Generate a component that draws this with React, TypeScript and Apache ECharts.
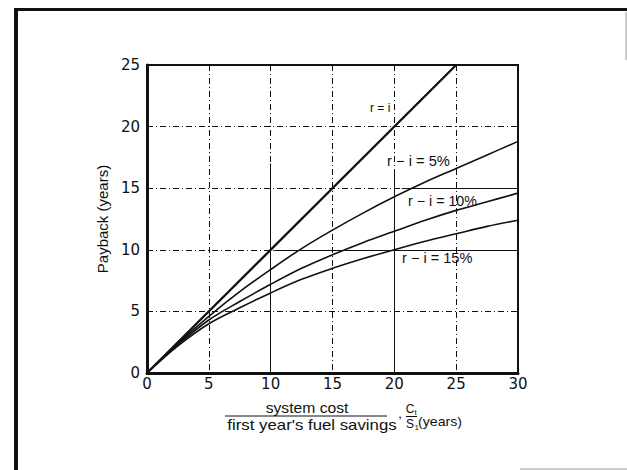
import React, { useEffect, useRef } from "react";
import * as echarts from "echarts";

// Ratio of system cost to first-year fuel savings (years)
const costRatio = [0, 2.5, 5, 7.5, 10, 12.5, 15, 17.5, 20, 22.5, 25, 27.5, 30];
// Payback (years)
const payback5 = [0, 2.4, 4.6, 6.6, 8.4, 10.1, 11.6, 13.0, 14.3, 15.5, 16.6, 17.7, 18.8];
const payback10 = [0, 2.3, 4.3, 5.8, 7.2, 8.5, 9.6, 10.6, 11.5, 12.4, 13.2, 13.9, 14.6];
const payback15 = [0, 2.2, 4.0, 5.3, 6.5, 7.6, 8.5, 9.3, 10.0, 10.7, 11.3, 11.9, 12.4];
// r = i : payback equals the cost ratio
const equalX = [0, 25];
const equalY = [0, 25];
// solid reading guides drawn over the grid
const guideSegments: [number, number, number, number][] = [
  [10, 0, 10, 17],
  [20, 0, 20, 16.3],
  [10.3, 10, 30, 10],
  [20.6, 15, 30, 15],
];

const INK = "#111";
const SANS = "'Liberation Sans', Arial, Helvetica, sans-serif";

export default function App() {
  const ref = useRef<HTMLDivElement>(null);

  useEffect(() => {
    if (!ref.current) return;
    const chart = echarts.init(ref.current, null, { renderer: "svg" });

    const zip = (xs: number[], ys: number[]) => xs.map((x, i) => [x, ys[i]]);
    const dashDot = { color: INK, width: 1, type: [6, 3, 1, 3] as any };

    const curve = (name: string, ys: number[], width: number) => ({
      type: "line",
      name,
      data: zip(costRatio, ys),
      symbol: "none",
      smooth: 0.35,
      lineStyle: { color: INK, width },
      z: 5,
    });

    const tickLabel = {
      color: INK,
      fontFamily: "'DejaVu Sans', sans-serif",
      fontSize: 15,
    };

    const option: any = {
      animation: false,
      backgroundColor: "#fff",
      grid: {
        left: 147,
        right: 109,
        top: 65,
        bottom: 97,
        show: true,
        borderColor: INK,
        borderWidth: 2,
      },
      xAxis: {
        type: "value",
        min: 0,
        max: 30,
        interval: 5,
        axisLine: { show: true, lineStyle: { color: INK, width: 3 } },
        axisTick: { show: false },
        axisLabel: { ...tickLabel, margin: 3 },
        splitLine: { show: true, lineStyle: dashDot },
      },
      yAxis: {
        type: "value",
        min: 0,
        max: 25,
        interval: 5,
        name: "Payback (years)",
        nameLocation: "middle",
        nameGap: 31,
        nameTextStyle: { color: INK, fontFamily: SANS, fontSize: 15 },
        axisLine: { show: true, lineStyle: { color: INK, width: 3 } },
        axisTick: { show: false },
        axisLabel: { ...tickLabel, margin: 7 },
        splitLine: { show: true, lineStyle: dashDot },
      },
      series: [
        {
          type: "line",
          name: "r = i",
          data: zip(equalX, equalY),
          symbol: "none",
          lineStyle: { color: INK, width: 2.3 },
          z: 6,
          markLine: {
            silent: true,
            symbol: ["none", "none"],
            label: { show: false },
            lineStyle: { color: INK, width: 1, type: "solid" },
            data: guideSegments.map(([x1, y1, x2, y2]) => [
              { coord: [x1, y1] },
              { coord: [x2, y2] },
            ]),
          },
        },
        curve("r - i = 5%", payback5, 1.6),
        curve("r - i = 10%", payback10, 1.6),
        curve("r - i = 15%", payback15, 1.6),
      ],
      graphic: [
        // outer frame of the scanned page
        { type: "line", shape: { x1: 16, y1: 9, x2: 16, y2: 470 }, style: { stroke: INK, lineWidth: 4 } },
        { type: "line", shape: { x1: 14, y1: 9.5, x2: 627, y2: 9.5 }, style: { stroke: INK, lineWidth: 3 } },
        { type: "line", shape: { x1: 626, y1: 12, x2: 626, y2: 60 }, style: { stroke: "#999", lineWidth: 1 } },
        { type: "line", shape: { x1: 520, y1: 469, x2: 627, y2: 469 }, style: { stroke: "#bbb", lineWidth: 1.5 } },

        // curve labels
        { type: "text", x: 370, y: 108, z: 10, style: { text: "r = i", font: `12px ${SANS}`, fill: INK, align: "left", verticalAlign: "middle" } },
        { type: "text", x: 387, y: 161, scaleX: 1.05, z: 10, style: { text: "r − i = 5%", font: `14px ${SANS}`, fill: INK, align: "left", verticalAlign: "middle" } },
        { type: "text", x: 408, y: 201, scaleX: 1.02, z: 10, style: { text: "r − i = 10%", font: `14px ${SANS}`, fill: INK, align: "left", verticalAlign: "middle" } },
        { type: "text", x: 402, y: 258, scaleX: 1.04, z: 10, style: { text: "r − i = 15%", font: `14px ${SANS}`, fill: INK, align: "left", verticalAlign: "middle" } },

        // x-axis title: fraction
        { type: "text", x: 307, y: 408, scaleX: 1.12, style: { text: "system cost", font: `14px ${SANS}`, fill: INK, align: "center", verticalAlign: "middle" } },
        { type: "line", shape: { x1: 225, y1: 416, x2: 387, y2: 416 }, style: { stroke: INK, lineWidth: 1 } },
        { type: "text", x: 312, y: 425, scaleX: 1.2, style: { text: "first year's fuel savings", font: `14px ${SANS}`, fill: INK, align: "center", verticalAlign: "middle" } },
        { type: "text", x: 400, y: 413, style: { text: ",", font: `13px ${SANS}`, fill: INK, align: "center", verticalAlign: "middle" } },
        { type: "text", x: 410, y: 409, style: { text: "C", font: `12px ${SANS}`, fill: INK, align: "center", verticalAlign: "middle" } },
        { type: "text", x: 414.5, y: 412, style: { text: "t", font: `8px ${SANS}`, fill: INK, align: "left", verticalAlign: "middle" } },
        { type: "line", shape: { x1: 406, y1: 416.5, x2: 417, y2: 416.5 }, style: { stroke: INK, lineWidth: 1 } },
        { type: "text", x: 410, y: 424, style: { text: "S", font: `12px ${SANS}`, fill: INK, align: "center", verticalAlign: "middle" } },
        { type: "text", x: 414.5, y: 427.5, style: { text: "1", font: `8px ${SANS}`, fill: INK, align: "left", verticalAlign: "middle" } },
        { type: "text", x: 418, y: 421, scaleX: 1.05, style: { text: "(years)", font: `13.5px ${SANS}`, fill: INK, align: "left", verticalAlign: "middle" } },
      ],
    };

    chart.setOption(option);
    return () => chart.dispose();
  }, []);

  return (
    <div
      ref={ref}
      style={{ position: "fixed", left: 0, top: 0, width: 627, height: 470, background: "#fff" }}
    />
  );
}
